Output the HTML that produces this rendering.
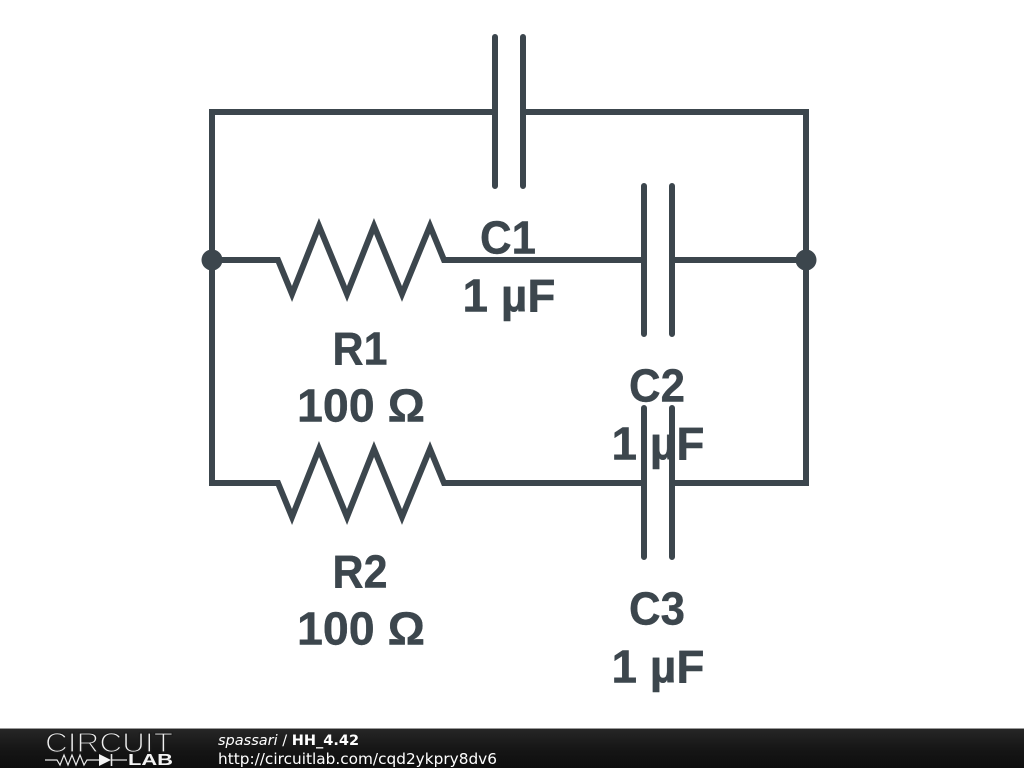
<!DOCTYPE html>
<html>
<head>
<meta charset="utf-8">
<style>
html,body{margin:0;padding:0;background:#fff;width:1024px;height:768px;overflow:hidden}
svg{display:block}
</style>
</head>
<body>
<svg width="1024" height="768" viewBox="0 0 1024 768" xmlns="http://www.w3.org/2000/svg">
<defs>
<linearGradient id="bar" x1="0" y1="0" x2="0" y2="1">
<stop offset="0" stop-color="#262626"/>
<stop offset="0.5" stop-color="#161616"/>
<stop offset="1" stop-color="#0e0e0e"/>
</linearGradient>
</defs>
<rect width="1024" height="768" fill="#fff"/>
<g fill="none" stroke="#3c464d" stroke-width="6" stroke-linecap="round" stroke-linejoin="miter" stroke-miterlimit="10">
<path d="M495 112H212V483H278L292 517L319 449L347 517L374 449L402 517L430 449L444 483H644"/>
<path d="M523 112H806V483H672"/>
<path d="M212 260H278L292 294L319 226L347 294L374 226L402 294L430 226L444 260H644"/>
<path d="M672 260H806"/>
<path d="M495 37V186M523 37V186"/>
<path d="M644 186V334M672 186V334"/>
<path d="M644 408V557M672 408V557"/>
</g>
<circle cx="212" cy="260" r="10.5" fill="#3c464d"/>
<circle cx="806" cy="260" r="10.5" fill="#3c464d"/>
<g font-family="'Liberation Sans',sans-serif" font-weight="700" font-size="46" fill="#3c464d" stroke="#3c464d" stroke-width="0.4" text-anchor="middle">
<text x="508" y="253.4" textLength="56" lengthAdjust="spacingAndGlyphs">C1</text>
<text x="509" y="311.4">1 µF</text>
<text x="360" y="364.6" textLength="55" lengthAdjust="spacingAndGlyphs">R1</text>
<text x="361" y="421.6" textLength="128" lengthAdjust="spacingAndGlyphs">100 Ω</text>
<text x="657" y="401.4" textLength="56" lengthAdjust="spacingAndGlyphs">C2</text>
<text x="658" y="459.4">1 µF</text>
<text x="360" y="587.6" textLength="55" lengthAdjust="spacingAndGlyphs">R2</text>
<text x="361" y="644.6" textLength="128" lengthAdjust="spacingAndGlyphs">100 Ω</text>
<text x="657" y="624.4" textLength="56" lengthAdjust="spacingAndGlyphs">C3</text>
<text x="658" y="682.4">1 µF</text>
</g>
<rect x="0" y="729" width="1024" height="39" fill="url(#bar)"/>
<rect x="0" y="728" width="1024" height="1" fill="#999"/>
<text x="45" y="752" font-family="'Liberation Sans',sans-serif" font-size="27.5" fill="#f0f0f0" stroke="#1c1c1c" stroke-width="1.3" textLength="128" lengthAdjust="spacingAndGlyphs">CIRCUIT</text>
<g fill="none" stroke="#e8e8e8" stroke-width="1.2">
<path d="M45 760H57L60 765L64 755L68 765L72 755L76 765L80 755L84 765L87 760H100"/>
<path d="M111 760H127"/>
<path d="M111.5 754V766" stroke-width="1.6"/>
</g>
<path d="M99 754L111 760L99 766Z" fill="#f4f4f4"/>
<text x="128" y="765" font-family="'Liberation Sans',sans-serif" font-weight="700" font-size="15.5" fill="#f4f4f4" textLength="45" lengthAdjust="spacingAndGlyphs">LAB</text>
<text x="218" y="745" font-family="'DejaVu Sans',sans-serif" font-size="14.5" fill="#fff"><tspan font-style="oblique">spassari</tspan> / <tspan font-weight="700">HH_4.42</tspan></text>
<text x="218" y="764" font-family="'DejaVu Sans',sans-serif" font-size="15" fill="#fff" textLength="279" lengthAdjust="spacingAndGlyphs">http://circuitlab.com/cqd2ykpry8dv6</text>
</svg>
</body>
</html>
